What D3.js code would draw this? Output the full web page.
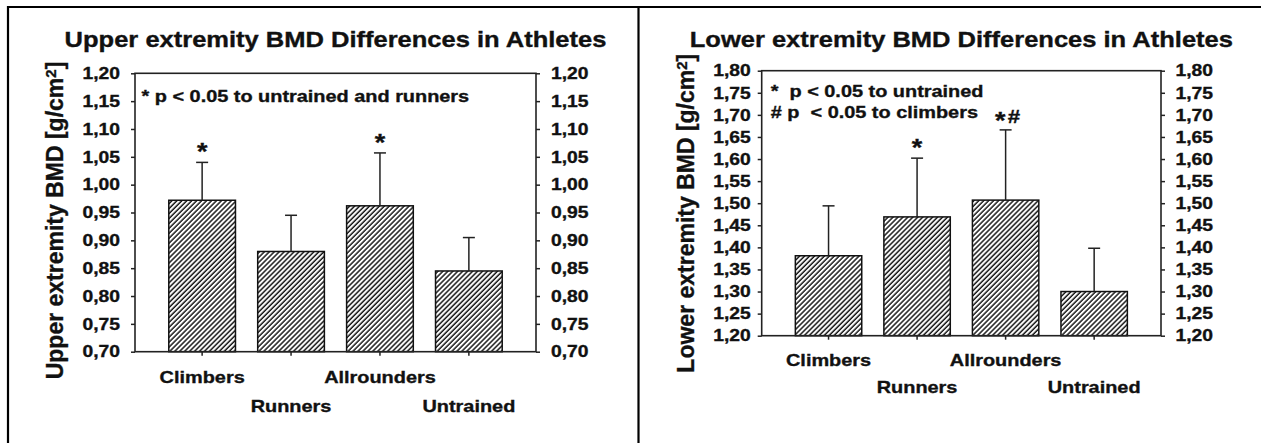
<!DOCTYPE html>
<html>
<head>
<meta charset="utf-8">
<script src="https://cdn.jsdelivr.net/npm/d3@7"></script>
<style>
  html, body { margin: 0; padding: 0; background: #fff; }
  svg { display: block; font-family: "Liberation Sans", Arial, sans-serif; font-weight: bold; }
  text { white-space: pre; stroke: #111; stroke-width: 0.35px; }
</style>
</head>
<body>
<svg id="chart" width="1261" height="443"></svg>
<script>
// ---------- DATA ----------
const categories = ["Climbers", "Runners", "Allrounders", "Untrained"];

const upperMeans = [0.972, 0.880, 0.962, 0.845];
const upperSD    = [0.068, 0.065, 0.095, 0.060];
const upperSig   = ["*", "", "*", ""];
const upperTicks = [0.70, 0.75, 0.80, 0.85, 0.90, 0.95, 1.00, 1.05, 1.10, 1.15, 1.20];
const upperTitle = "Upper extremity BMD Differences in Athletes";
const upperYLabel = "Upper extremity BMD ";
const upperNotes = ["* p < 0.05 to untrained and runners"];

const lowerMeans = [1.381, 1.469, 1.507, 1.300];
const lowerSD    = [0.113, 0.133, 0.159, 0.098];
const lowerSig   = ["", "*", "*#", ""];
const lowerTicks = [1.20, 1.25, 1.30, 1.35, 1.40, 1.45, 1.50, 1.55, 1.60, 1.65, 1.70, 1.75, 1.80];
const lowerTitle = "Lower extremity BMD Differences in Athletes";
const lowerYLabel = "Lower extremity BMD ";
const lowerNotes = ["*  p < 0.05 to untrained", "# p  < 0.05 to climbers"];

const unitLabel = ["[g/cm", "2", "]"];

// ---------- LAYOUT ----------
const SX = 1.17; // horizontal stretch of the original raster text
const fmt = v => d3.format(".2f")(v).replace(".", ",");

const panels = [
  { means: upperMeans, sd: upperSD, sig: upperSig, ticks: upperTicks, title: upperTitle,
    yLabel: upperYLabel, notes: upperNotes,
    left: 135, right: 536, top: 73.3, bottom: 351.7,
    gapL: 15, gapR: 15, titleY: 47, yLabX: 63, yLabShift: 8,
    notesX: 141.5, notesY: [101.5], rows: [31, 60] },
  { means: lowerMeans, sd: lowerSD, sig: lowerSig, ticks: lowerTicks, title: lowerTitle,
    yLabel: lowerYLabel, notes: lowerNotes,
    left: 761.7, right: 1161, top: 70.7, bottom: 335.7,
    gapL: 11, gapR: 14.5, titleY: 46.5, yLabX: 694, yLabShift: 10,
    notesX: 770.7, notesY: [96.7, 118.3], rows: [30, 57.5] }
];

const svg = d3.select("#chart");

// hatch pattern
const defs = svg.append("defs");
const pat = defs.append("pattern")
  .attr("id", "hatch")
  .attr("patternUnits", "userSpaceOnUse")
  .attr("width", 3.5).attr("height", 3.5)
  .attr("patternTransform", "rotate(45)");
pat.append("rect").attr("width", 3.5).attr("height", 3.5).attr("fill", "#fff");
pat.append("line").attr("x1", 1).attr("y1", -1).attr("x2", 1).attr("y2", 5)
  .attr("stroke", "#000").attr("stroke-width", 1.35);

// outer frame (table borders)
const frame = svg.append("g").attr("stroke", "#000").attr("stroke-width", 2.2);
frame.append("line").attr("x1", 7).attr("x2", 1261).attr("y1", 7).attr("y2", 7);
frame.append("line").attr("x1", 8).attr("x2", 8).attr("y1", 6).attr("y2", 443);
frame.append("line").attr("x1", 638.5).attr("x2", 638.5).attr("y1", 6).attr("y2", 443);

function stretchedText(g, x, y, txt, size, anchor) {
  return g.append("text")
    .attr("transform", `translate(${x},${y}) scale(${SX},1)`)
    .attr("text-anchor", anchor || "start")
    .attr("font-size", size)
    .attr("fill", "#111")
    .text(txt);
}

panels.forEach(p => {
  const g = svg.append("g");
  const dom = [p.ticks[0], p.ticks[p.ticks.length - 1]];
  const y = d3.scaleLinear().domain(dom).range([p.bottom, p.top]);
  const x = d3.scaleBand().domain(categories).range([p.left, p.right])
    .paddingInner(0.25).paddingOuter(0.38);

  // bars
  g.selectAll("rect.bar").data(categories).join("rect")
    .attr("class", "bar")
    .attr("x", d => x(d))
    .attr("width", x.bandwidth())
    .attr("y", (d, i) => y(p.means[i]))
    .attr("height", (d, i) => p.bottom - y(p.means[i]))
    .attr("fill", "url(#hatch)")
    .attr("stroke", "#111").attr("stroke-width", 1.5);

  // error bars (upper only)
  const eb = g.append("g").attr("stroke", "#222").attr("stroke-width", 1.5);
  categories.forEach((c, i) => {
    const cx = x(c) + x.bandwidth() / 2;
    eb.append("line").attr("x1", cx).attr("x2", cx)
      .attr("y1", y(p.means[i])).attr("y2", y(p.means[i] + p.sd[i]));
    eb.append("line").attr("x1", cx - 6).attr("x2", cx + 6)
      .attr("y1", y(p.means[i] + p.sd[i])).attr("y2", y(p.means[i] + p.sd[i]));
  });

  // significance marks
  categories.forEach((c, i) => {
    if (!p.sig[i]) return;
    const cx = x(c) + x.bandwidth() / 2;
    const t = g.append("text")
      .attr("transform", `translate(${cx + (p.sig[i].length > 1 ? 2 : 0)},${y(p.means[i] + p.sd[i])}) scale(${SX},1)`)
      .attr("text-anchor", "middle").attr("fill", "#111");
    const multi = p.sig[i].length > 1;
    let cur = 0;
    p.sig[i].split("").forEach((ch, k) => {
      const target = ch === "*" ? (multi ? -1 : -2) : -7;
      t.append("tspan")
        .attr("font-size", ch === "*" ? 23 : 19)
        .attr("dy", target - cur)
        .attr("dx", k > 0 ? 2 : 0)
        .text(ch);
      cur = target;
    });
  });

  // plot frame
  g.append("rect")
    .attr("x", p.left).attr("y", p.top)
    .attr("width", p.right - p.left).attr("height", p.bottom - p.top)
    .attr("fill", "none").attr("stroke", "#222").attr("stroke-width", 1.6);

  // left axis
  const axL = g.append("g").attr("transform", `translate(${p.left},0)`)
    .call(d3.axisLeft(y).tickValues(p.ticks).tickFormat(fmt).tickSize(4).tickSizeOuter(0));
  axL.select(".domain").remove();
  axL.selectAll("line").attr("stroke", "#222").attr("stroke-width", 1.5);
  axL.selectAll("text").attr("x", -p.gapL / SX).attr("transform", `scale(${SX},1)`)
    .attr("font-size", 16.5).attr("fill", "#111");

  // right axis
  const axR = g.append("g").attr("transform", `translate(${p.right},0)`)
    .call(d3.axisRight(y).tickValues(p.ticks).tickFormat(fmt).tickSize(4).tickSizeOuter(0));
  axR.select(".domain").remove();
  axR.selectAll("line").attr("stroke", "#222").attr("stroke-width", 1.5);
  axR.selectAll("text").attr("x", p.gapR / SX).attr("transform", `scale(${SX},1)`)
    .attr("font-size", 16.5).attr("fill", "#111");

  // bottom axis
  const axB = g.append("g").attr("transform", `translate(0,${p.bottom})`)
    .call(d3.axisBottom(x).tickSize(4).tickSizeOuter(0));
  axB.select(".domain").remove();
  axB.selectAll("line").attr("stroke", "#222").attr("stroke-width", 1.5);
  axB.selectAll("text")
    .attr("y", (d, i) => p.rows[i % 2]).attr("dy", 0)
    .attr("transform", `scale(${SX},1)`)
    .attr("font-size", 17).attr("fill", "#111");

  [axL, axR, axB].forEach(a => a.attr("font-family", null).attr("font-size", null));

  // title
  stretchedText(g, (p.left + p.right) / 2, p.titleY, p.title, 21.8, "middle");

  // notes
  p.notes.forEach((n, i) => stretchedText(g, p.notesX, p.notesY[i], n, 17, "start"));

  // y-axis label (rotated)
  const yl = g.append("text")
    .attr("transform", `translate(${p.yLabX},${(p.top + p.bottom) / 2 + p.yLabShift}) rotate(-90)`)
    .attr("text-anchor", "middle")
    .attr("font-size", 23)
    .attr("fill", "#111");
  yl.append("tspan").text(p.yLabel + unitLabel[0]);
  yl.append("tspan").attr("font-size", 15).attr("dy", "-0.5em").text(unitLabel[1]);
  yl.append("tspan").attr("dy", "0.33em").text(unitLabel[2]);
});
</script>
</body>
</html>
